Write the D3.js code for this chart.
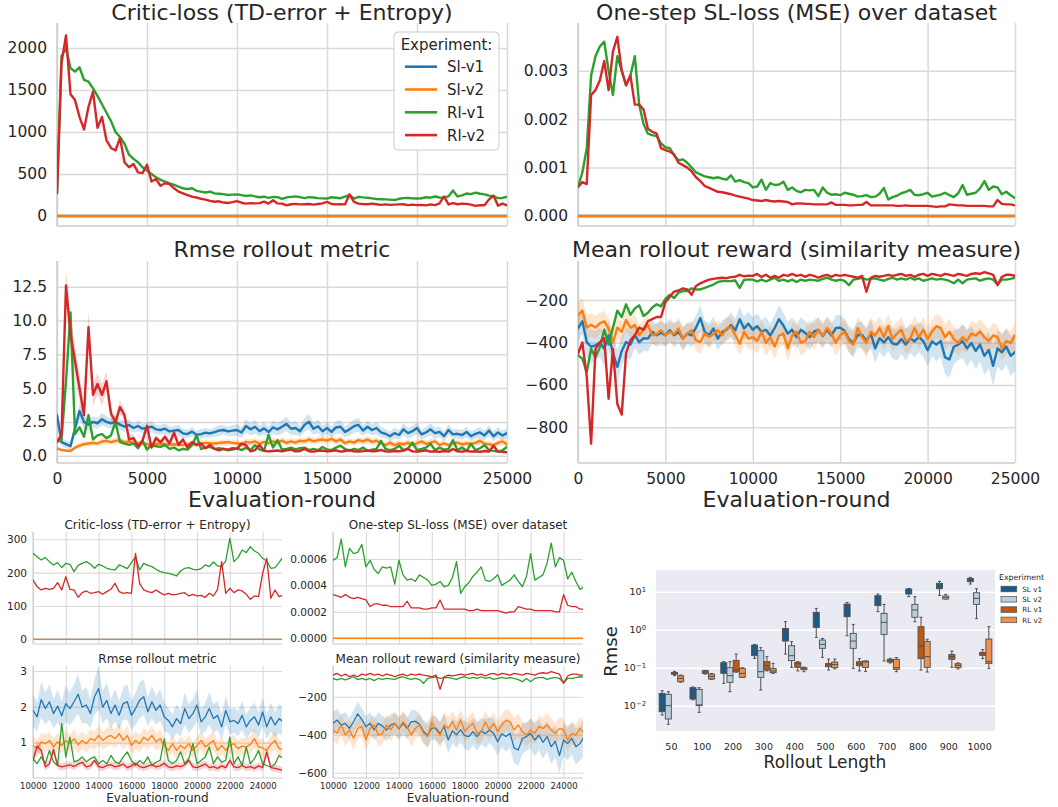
<!DOCTYPE html>
<html><head><meta charset="utf-8">
<script src="https://cdn.jsdelivr.net/npm/d3@7"></script>
<style>body{margin:0;background:#fff}svg{display:block}</style>
</head><body><svg id="c" width="1058" height="807"></svg>
<script>
// ---------------- DATA ----------------
const rounds = [0,250,500,750,1000,1250,1500,1750,2000,2250,
2500,2750,3000,3250,3500,3750,4000,4250,4500,4750,
5000,5250,5500,5750,6000,6250,6500,6750,7000,7250,
7500,7750,8000,8250,8500,8750,9000,9250,9500,9750,
10000,10250,10500,10750,11000,11250,11500,11750,12000,12250,
12500,12750,13000,13250,13500,13750,14000,14250,14500,14750,
15000,15250,15500,15750,16000,16250,16500,16750,17000,17250,
17500,17750,18000,18250,18500,18750,19000,19250,19500,19750,
20000,20250,20500,20750,21000,21250,21500,21750,22000,22250,
22500,22750,23000,23250,23500,23750,24000,24250,24500,24750,
25000,25250];
const experiments = ["Sl-v1","Sl-v2","Rl-v1","Rl-v2"];
const slRounds = [0,25250];
const slV1Critic = [0,0];
const slV2Critic = [0,0];
const slV1Mse = [0,0];
const slV2Mse = [0,0];

const rlV1Critic = [270,1900,2000,1760,1720,1770,1620,1600,1520,1430,
1330,1230,1130,1000,940,860,730,680,640,580,
540,500,460,430,410,390,370,350,330,320,
330,300,290,280,290,270,265,260,250,255,
258,248,238,245,233,223,230,215,228,225,
203,222,228,233,225,213,225,220,213,210,
208,223,218,212,230,248,208,228,222,218,
210,203,200,198,195,190,205,213,215,210,
208,212,223,218,232,220,218,235,303,233,
245,268,260,278,265,258,243,235,213,215,
230,248];
const rlV2Critic = [270,1820,2150,1450,1380,1180,1030,1300,1480,1050,
1180,900,810,780,930,640,580,620,520,510,
610,410,440,360,390,380,330,290,270,250,
230,220,205,195,180,170,175,160,155,165,
178,158,148,153,150,153,170,148,188,150,
148,126,140,145,138,140,143,135,143,150,
168,143,138,140,138,258,168,148,143,140,
148,140,133,138,133,135,138,140,130,135,
130,132,126,138,130,150,233,138,153,140,
148,145,135,120,130,128,198,243,123,148,
128,133];

const rlV1Mse = [0.00060,0.00090,0.00140,0.00290,0.00330,0.00350,0.00360,0.00300,0.00250,0.00330,
0.00300,0.00270,0.00290,0.00330,0.00230,0.00190,0.00170,0.00167,0.00165,0.00150,
0.00142,0.00140,0.00125,0.00115,0.00117,0.00110,0.00100,0.00090,0.00086,0.00082,
0.00080,0.00078,0.00080,0.00077,0.00075,0.00084,0.00071,0.00074,0.00070,0.00068,
0.00059,0.00061,0.00075,0.00054,0.00068,0.00064,0.00065,0.00071,0.00054,0.00059,
0.00052,0.00049,0.00054,0.00053,0.00054,0.00041,0.00059,0.00048,0.00044,0.00045,
0.00043,0.00048,0.00046,0.00044,0.00040,0.00041,0.00043,0.00039,0.00040,0.00046,
0.00058,0.00034,0.00039,0.00042,0.00047,0.00050,0.00054,0.00044,0.00043,0.00045,
0.00048,0.00040,0.00042,0.00044,0.00048,0.00043,0.00039,0.00047,0.00064,0.00044,
0.00046,0.00048,0.00057,0.00072,0.00054,0.00061,0.00059,0.00045,0.00050,0.00043,
0.00037,0.00039];
const rlV2Mse = [0.00060,0.00070,0.00066,0.00250,0.00260,0.00280,0.00320,0.00260,0.00340,0.00370,
0.00300,0.00270,0.00290,0.00230,0.00230,0.00220,0.00180,0.00174,0.00170,0.00140,
0.00136,0.00133,0.00127,0.00110,0.00105,0.00100,0.00092,0.00080,0.00072,0.00062,
0.00058,0.00054,0.00050,0.00049,0.00047,0.00045,0.00042,0.00040,0.00038,0.00036,
0.00033,0.00032,0.00031,0.00033,0.00031,0.00030,0.00031,0.00030,0.00029,0.00024,
0.00026,0.00026,0.00025,0.00025,0.00024,0.00024,0.00024,0.00024,0.00028,0.00023,
0.00023,0.00023,0.00022,0.00022,0.00023,0.00023,0.00029,0.00022,0.00022,0.00022,
0.00022,0.00022,0.00022,0.00021,0.00021,0.00022,0.00021,0.00021,0.00021,0.00021,
0.00021,0.00020,0.00019,0.00020,0.00020,0.00024,0.00023,0.00022,0.00022,0.00021,
0.00021,0.00021,0.00021,0.00021,0.00020,0.00020,0.00033,0.00025,0.00024,0.00024,
0.00022,0.00022];

const slV1Rmse = [3.0,1.0,0.85,0.7,2.0,3.3,2.5,2.3,2.5,2.4,
2.7,2.5,2.4,2.5,2.3,2.15,2.27,2.05,2.2,2.0,
2.05,2.15,1.95,1.9,2.0,1.8,1.85,1.9,1.65,1.6,
1.78,1.55,1.6,1.7,1.65,1.75,1.85,1.9,1.8,1.85,
1.9,1.72,2.2,1.95,2.14,1.81,2.02,1.75,2.09,1.95,
2.14,2.35,1.99,2.05,1.81,2.28,2.51,1.99,2.18,1.81,
2.05,1.76,2.09,2.14,1.76,1.95,2.18,2.28,1.86,2.14,
1.9,2.05,1.72,1.62,1.44,1.67,1.53,1.95,1.67,1.81,
2.05,1.58,1.72,1.95,1.67,1.76,1.44,1.9,1.58,1.62,
1.53,1.76,1.44,1.62,1.72,1.49,1.86,1.44,1.72,1.49,
1.67,1.58];
const slV1RmseBand = [0.5,0.3,0.3,0.3,0.5,0.6,0.5,0.45,0.4,0.4,
0.45,0.4,0.4,0.45,0.4,0.4,0.4,0.35,0.4,0.35,
0.4,0.4,0.35,0.35,0.4,0.35,0.35,0.4,0.35,0.3,
0.35,0.3,0.35,0.35,0.3,0.35,0.4,0.35,0.35,0.4,
0.45,0.4,0.5,0.45,0.5,0.4,0.45,0.4,0.5,0.45,
0.5,0.55,0.45,0.5,0.4,0.5,0.6,0.45,0.5,0.4,
0.45,0.4,0.45,0.5,0.4,0.45,0.5,0.5,0.4,0.45,
0.4,0.45,0.4,0.35,0.35,0.4,0.35,0.45,0.4,0.4,
0.45,0.35,0.4,0.45,0.4,0.4,0.35,0.4,0.35,0.35,
0.35,0.4,0.35,0.35,0.4,0.35,0.4,0.35,0.4,0.35,
0.4,0.4];
const slV2Rmse = [0.55,0.42,0.38,0.35,0.6,0.75,0.85,0.9,0.95,0.9,
1.05,1.1,1.0,1.1,1.15,1.0,1.05,0.95,0.9,0.92,
0.85,0.8,0.85,0.9,0.85,0.8,0.85,0.8,0.78,0.85,
0.9,0.85,0.9,0.95,0.92,0.9,0.95,0.98,1.0,0.95,
0.92,0.83,1.02,0.97,1.06,0.88,1.02,0.92,1.06,0.97,
1.11,0.94,1.06,0.97,1.11,1.06,1.2,1.06,1.15,1.2,
1.11,1.25,1.06,1.2,0.92,1.06,0.97,1.15,1.06,1.2,
1.02,1.11,0.92,0.78,0.97,0.78,0.92,0.83,0.97,0.78,
0.92,1.06,0.88,0.97,1.06,0.78,0.92,0.78,0.92,0.97,
0.83,0.9,0.88,0.95,1.11,0.88,0.85,0.78,0.95,1.06,
0.83,0.8];
const slV2RmseBand = [0.15,0.1,0.1,0.1,0.15,0.2,0.2,0.2,0.2,0.2,
0.25,0.25,0.2,0.25,0.25,0.2,0.2,0.2,0.2,0.2,
0.2,0.2,0.2,0.2,0.2,0.2,0.2,0.2,0.2,0.2,
0.2,0.22,0.2,0.22,0.2,0.22,0.2,0.22,0.24,0.22,
0.24,0.22,0.26,0.24,0.25,0.22,0.24,0.22,0.26,0.24,
0.26,0.24,0.25,0.23,0.26,0.25,0.28,0.25,0.26,0.27,
0.26,0.28,0.25,0.27,0.23,0.25,0.24,0.26,0.25,0.27,
0.24,0.26,0.23,0.22,0.24,0.22,0.24,0.22,0.24,0.22,
0.24,0.26,0.23,0.24,0.26,0.22,0.24,0.22,0.24,0.25,
0.23,0.24,0.23,0.24,0.26,0.23,0.23,0.22,0.24,0.26,
0.23,0.23];
const rlV1Rmse = [1.04,1.2,5.5,10.6,1.6,2.1,1.4,3.0,1.2,1.5,
1.6,1.3,1.5,2.5,1.0,0.9,0.8,0.9,0.55,1.1,
0.45,0.8,0.7,0.65,0.8,0.5,0.6,0.4,0.5,0.45,
0.78,1.5,0.5,0.6,0.65,0.5,0.55,0.5,0.4,0.45,
0.55,0.41,0.6,0.41,0.78,0.46,0.36,1.53,0.6,1.15,
0.46,0.5,0.6,0.46,0.55,0.6,0.41,0.5,0.41,0.64,
0.46,0.41,0.6,0.74,0.5,0.36,0.5,0.41,0.6,0.36,
0.45,0.5,1.1,0.5,0.41,0.5,0.74,0.41,0.55,0.97,
0.41,0.5,0.6,0.88,0.41,0.6,0.45,0.5,1.15,0.41,
0.6,0.36,0.88,0.41,0.55,0.78,0.41,0.36,0.31,0.4,
0.64,0.55];
const rlV2Rmse = [1.04,1.5,12.6,9.0,7.0,5.0,3.0,9.5,4.5,5.3,
4.5,5.5,3.1,2.5,3.6,3.0,1.2,1.3,0.7,1.1,
2.2,0.6,1.3,1.0,1.4,0.9,1.7,0.8,1.2,0.6,
1.0,0.8,0.9,0.55,0.8,0.5,0.4,0.5,0.45,0.55,
0.5,0.9,0.78,0.32,0.41,0.8,0.36,0.32,0.35,0.38,
0.33,0.4,0.45,0.32,0.35,0.5,0.33,0.3,0.36,0.38,
0.32,0.35,0.4,0.3,0.35,0.42,0.33,0.3,0.34,0.38,
0.32,0.35,0.42,0.32,0.3,0.35,0.33,0.38,0.5,0.32,
0.3,0.35,0.4,0.3,0.33,0.28,0.35,0.3,0.5,0.32,
0.3,0.36,0.3,0.33,0.28,0.35,0.3,0.74,0.3,0.28,
0.25,0.22];
const rlV2RmseBand = [0.1,0.6,1.1,1.2,1.2,1.0,0.8,1.2,0.8,0.8,
0.8,0.7,0.5,0.4,0.5,0.4,0.3,0.3,0.2,0.3,
0.3,0.2,0.25,0.2,0.25,0.2,0.3,0.2,0.2,0.15,
0.15,0.15,0.15,0.1,0.15,0.1,0.1,0.1,0.1,0.1,
0.1,0.15,0.15,0.1,0.1,0.15,0.1,0.1,0.1,0.1,
0.1,0.1,0.1,0.1,0.1,0.1,0.1,0.1,0.1,0.1,
0.1,0.1,0.1,0.1,0.1,0.1,0.1,0.1,0.1,0.1,
0.1,0.1,0.1,0.1,0.1,0.1,0.1,0.1,0.1,0.1,
0.1,0.1,0.1,0.1,0.1,0.1,0.1,0.1,0.1,0.1,
0.1,0.1,0.1,0.1,0.1,0.1,0.1,0.15,0.1,0.1,
0.1,0.1];

const slV1Reward = [-334,-300,-398,-420,-414,-400,-430,-366,-450,-515,
-440,-398,-410,-366,-398,-380,-382,-350,-366,-355,
-366,-342,-366,-350,-382,-358,-366,-330,-285,-350,
-366,-334,-382,-350,-340,-318,-342,-290,-334,-311,
-340,-323,-349,-340,-367,-332,-290,-320,-358,-340,
-375,-340,-355,-375,-349,-340,-370,-340,-367,-332,
-330,-345,-384,-402,-365,-365,-393,-358,-428,-380,
-400,-375,-405,-410,-384,-410,-380,-395,-375,-393,
-437,-395,-410,-393,-470,-480,-420,-410,-393,-428,
-402,-440,-410,-463,-435,-510,-428,-446,-419,-463,
-446,-410];
const slV1RewardBand = [60,60,70,80,70,70,80,70,80,80,
70,70,70,60,60,60,60,55,55,55,
55,55,55,55,55,50,55,60,60,55,
55,55,55,55,55,60,55,60,55,55,
60,60,55,60,55,60,65,60,55,60,
55,60,55,60,55,60,55,60,55,60,
60,55,60,65,60,65,60,70,70,65,
70,65,70,75,70,75,70,75,70,75,
75,70,80,75,80,85,80,75,80,85,
80,85,80,90,85,95,85,90,85,95,
90,100];
const slV2Reward = [-271,-250,-330,-316,-330,-310,-300,-334,-400,-330,
-350,-295,-330,-318,-366,-340,-318,-366,-360,-342,
-366,-350,-360,-334,-382,-358,-342,-390,-398,-358,
-374,-360,-342,-366,-334,-326,-366,-406,-350,-382,
-375,-393,-349,-402,-375,-419,-367,-358,-428,-367,
-349,-402,-393,-349,-375,-340,-367,-332,-358,-402,
-367,-349,-393,-410,-332,-375,-402,-349,-367,-332,
-375,-323,-384,-358,-340,-393,-384,-332,-375,-340,
-384,-349,-323,-332,-375,-349,-384,-402,-375,-393,
-358,-367,-349,-375,-393,-367,-375,-428,-393,-402,
-367,-393];
const slV2RewardBand = [60,60,55,55,55,50,50,50,55,50,
50,50,50,50,50,50,50,45,50,50,
50,45,50,50,55,50,45,50,55,50,
50,50,45,50,50,45,50,55,50,50,
55,60,55,60,55,60,55,55,60,55,
55,60,55,55,60,55,60,55,55,60,
55,60,55,60,55,60,70,65,60,55,
60,55,60,55,60,60,55,60,55,60,
60,55,60,55,60,60,55,60,60,55,
60,55,60,60,55,60,55,60,60,55,
60,60];
const rlV1Reward = [-460,-476,-540,-430,-470,-423,-340,-410,-330,-250,
-280,-220,-270,-240,-225,-275,-260,-235,-220,-230,
-195,-175,-190,-165,-158,-158,-145,-150,-150,-143,
-135,-127,-115,-111,-111,-110,-108,-143,-105,-103,
-104,-112,-104,-112,-104,-95,-110,-104,-112,-104,
-115,-104,-109,-104,-106,-109,-100,-95,-104,-109,
-104,-110,-130,-104,-100,-95,-104,-100,-98,-104,
-109,-100,-95,-104,-98,-104,-95,-104,-98,-109,
-104,-98,-104,-100,-104,-110,-121,-104,-121,-104,
-100,-98,-109,-102,-98,-104,-126,-104,-104,-100,
-95,-98];
const rlV2Reward = [-452,-400,-560,-877,-430,-400,-380,-665,-430,-690,
-740,-450,-390,-366,-330,-340,-300,-290,-280,-280,
-210,-184,-160,-155,-145,-150,-175,-134,-121,-112,
-104,-100,-97,-95,-97,-92,-90,-81,-88,-85,
-86,-77,-91,-81,-95,-86,-95,-81,-86,-77,
-86,-81,-91,-81,-86,-95,-86,-81,-91,-81,
-86,-81,-86,-90,-95,-86,-161,-95,-86,-90,
-86,-81,-86,-81,-77,-86,-81,-91,-81,-77,
-86,-77,-81,-86,-77,-81,-86,-77,-81,-86,
-77,-74,-77,-68,-74,-81,-130,-91,-81,-81,
-86,-86];

// Box plot data: [lower whisker, q1, median, q3, upper whisker]
const rolloutLengths = ["50","100","200","300","400","500","600","700","800","900","1000"];
const boxExperiments = ["SL v1","SL v2","RL v1","RL v2"];
const slV1Box = [[0.00568,0.00695,0.0111,0.0211,0.0248],[0.0143,0.015,0.0173,0.0298,0.031],[0.0387,0.071,0.1,0.1355,0.144],[0.176,0.207,0.292,0.394,0.41],[0.229,0.503,0.922,1.08,1.62],[0.628,1.15,2.29,2.86,3.64],[0.695,2.2,4.03,4.73,5.24],[2.98,4.29,6.68,7.85,8.69],[7.38,8.69,10,11.8,12.2],[8.0,12.0,14.1,16.6,18.7],[15.9,18.3,20.3,22.4,23.8]];
const slV2Box = [[0.00324,0.00446,0.01,0.0199,0.0233],[0.00668,0.01,0.0105,0.0269,0.0298],[0.0233,0.0411,0.0616,0.1,0.144],[0.0258,0.0557,0.0785,0.28,0.336],[0.102,0.153,0.207,0.379,0.483],[0.187,0.323,0.411,0.535,0.59],[0.0959,0.323,0.503,0.8,1.38],[0.15,0.753,1.56,2.69,4.64],[1.62,2.12,3.3,4.64,7.38],[6.4,6.41,7.1,7.69,8.5],[1.95,4.64,6.68,9.41,12.0]];
const rlV1Box = [[0.0617,0.0668,0.071,0.0753,0.08],[0.068,0.071,0.0769,0.0834,0.085],[0.0757,0.0785,0.0869,0.156,0.229],[0.0822,0.0869,0.111,0.144,0.195],[0.0822,0.102,0.127,0.138,0.144],[0.0869,0.106,0.118,0.13,0.169],[0.0822,0.113,0.127,0.144,0.173],[0.133,0.141,0.153,0.166,0.176],[0.0869,0.173,0.371,1.2,2.12],[0.102,0.166,0.195,0.224,0.275],[0.173,0.211,0.233,0.253,0.3]];
const rlV2Box = [[0.0415,0.0428,0.0525,0.0617,0.064],[0.049,0.0503,0.0591,0.068,0.07],[0.055,0.0557,0.071,0.0959,0.1],[0.071,0.0739,0.0822,0.0959,0.13],[0.0785,0.0885,0.094,0.1,0.104],[0.0933,0.1,0.121,0.141,0.169],[0.08,0.102,0.141,0.15,0.15],[0.0785,0.0904,0.1,0.166,0.184],[0.077,0.102,0.195,0.493,0.56],[0.093,0.1,0.115,0.127,0.134],[0.0959,0.13,0.144,0.567,1.2]];

// ---------------- DRAWING ----------------
const FONT = "DejaVu Sans, sans-serif";
const TXT = "#262626";
const GRID = "#dadada";
const COL = ["#1f77b4","#ff7f0e","#2ca02c","#d62728"];
const svg = d3.select("#c");
let clipN = 0;

function panel(o){
  const x = d3.scaleLinear().domain(o.xd).range([o.l,o.r]);
  const y = d3.scaleLinear().domain(o.yd).range([o.b,o.t]);
  const g = svg.append("g");
  const ya = d3.axisLeft(y).tickValues(o.yt).tickFormat(o.yf).tickSize(-(o.r-o.l)).tickSizeOuter(0).tickPadding(o.pad);
  const yg = g.append("g").attr("transform",`translate(${o.l},0)`).call(ya)
    .attr("font-family",FONT).attr("font-size",o.yfs);
  yg.select(".domain").remove();
  yg.selectAll("line").attr("stroke",GRID).attr("stroke-width",o.gw);
  yg.selectAll("text").attr("fill",TXT);
  const xa = d3.axisBottom(x).tickValues(o.xt).tickFormat(o.xlabels? d3.format("d") : ()=>"").tickSize(-(o.b-o.t)).tickSizeOuter(0).tickPadding(o.xpad);
  const xg = g.append("g").attr("transform",`translate(0,${o.b})`).call(xa)
    .attr("font-family",FONT).attr("font-size",o.xfs);
  xg.select(".domain").remove();
  xg.selectAll("line").attr("stroke",GRID).attr("stroke-width",o.gw);
  xg.selectAll("text").attr("fill",TXT);
  g.append("line").attr("x1",o.l).attr("x2",o.l).attr("y1",o.t).attr("y2",o.b).attr("stroke","#cccccc").attr("stroke-width",o.gw);
  g.append("line").attr("x1",o.l).attr("x2",o.r).attr("y1",o.b).attr("y2",o.b).attr("stroke","#cccccc").attr("stroke-width",o.gw);
  g.append("text").attr("x",(o.l+o.r)/2).attr("y",o.titleY).attr("text-anchor","middle")
    .attr("font-family",FONT).attr("font-size",o.tfs).attr("fill",TXT).text(o.title);
  if(o.xlabel){
    g.append("text").attr("x",(o.l+o.r)/2).attr("y",o.xlabelY).attr("text-anchor","middle")
      .attr("font-family",FONT).attr("font-size",o.xlfs).attr("fill",TXT).text(o.xlabel);
  }
  const id = "clip"+(clipN++);
  svg.append("clipPath").attr("id",id).append("rect").attr("x",o.l).attr("y",o.t-2).attr("width",o.r-o.l).attr("height",o.b-o.t+2);
  const pg = svg.append("g").attr("clip-path",`url(#${id})`);
  function band(xs, vals, hw, c){
    pg.append("path").datum(vals)
      .attr("d", d3.area().x((d,i)=>x(xs[i])).y0((d,i)=>y(d-hw[i])).y1((d,i)=>y(d+hw[i])))
      .attr("fill",c).attr("fill-opacity",0.2).attr("stroke","none");
  }
  function line(xs, vals, c){
    pg.append("path").datum(vals)
      .attr("d", d3.line().x((d,i)=>x(xs[i])).y(d=>y(d)))
      .attr("fill","none").attr("stroke",c).attr("stroke-width",o.lw)
      .attr("stroke-linejoin","round").attr("stroke-linecap","round");
  }
  return {band,line};
}

const bigX = [0,5000,10000,15000,20000,25000];
const smallX = [10000,12000,14000,16000,18000,20000,22000,24000];
const big = {xd:[0,25000],xt:bigX,pad:10,xpad:10,yfs:15.5,xfs:15.5,tfs:22,xlfs:22,gw:1.5,lw:2.4};
const small = {xd:[10000,25180],xt:smallX,pad:6,xpad:5,yfs:10.5,xfs:8.5,tfs:12,xlfs:12,gw:1.1,lw:1.3};

function drawCritic(p){
  p.line(slRounds, slV1Critic, COL[0]);
  p.line(slRounds, slV2Critic, COL[1]);
  p.line(rounds, rlV1Critic, COL[2]);
  p.line(rounds, rlV2Critic, COL[3]);
}
function drawMse(p){
  p.line(slRounds, slV1Mse, COL[0]);
  p.line(slRounds, slV2Mse, COL[1]);
  p.line(rounds, rlV1Mse, COL[2]);
  p.line(rounds, rlV2Mse, COL[3]);
}
function drawRmse(p){
  p.band(rounds, slV1Rmse, slV1RmseBand, COL[0]);
  p.band(rounds, slV2Rmse, slV2RmseBand, COL[1]);
  p.band(rounds, rlV2Rmse, rlV2RmseBand, COL[3]);
  p.line(rounds, slV1Rmse, COL[0]);
  p.line(rounds, slV2Rmse, COL[1]);
  p.line(rounds, rlV1Rmse, COL[2]);
  p.line(rounds, rlV2Rmse, COL[3]);
}
function drawReward(p){
  p.band(rounds, slV1Reward, slV1RewardBand, COL[0]);
  p.band(rounds, slV2Reward, slV2RewardBand, COL[1]);
  p.line(rounds, slV1Reward, COL[0]);
  p.line(rounds, slV2Reward, COL[1]);
  p.line(rounds, rlV1Reward, COL[2]);
  p.line(rounds, rlV2Reward, COL[3]);
}

drawCritic(panel({...big,l:57,r:507,t:23,b:226,yd:[-119,2298],yt:[0,500,1000,1500,2000],yf:d3.format("d"),xlabels:false,title:"Critic-loss (TD-error + Entropy)",titleY:19.5}));
drawMse(panel({...big,l:578,r:1015,t:23,b:226,yd:[-0.000206,0.003985],yt:[0,0.001,0.002,0.003],yf:d3.format(".3f"),xlabels:false,title:"One-step SL-loss (MSE) over dataset",titleY:19.5}));
drawRmse(panel({...big,l:57,r:507,t:261,b:463,yd:[-0.54,14.4],yt:[0,2.5,5,7.5,10,12.5],yf:d3.format(".1f"),xlabels:true,title:"Rmse rollout metric",titleY:257,xlabel:"Evaluation-round",xlabelY:507}));
drawReward(panel({...big,l:578,r:1015,t:261,b:463,yd:[-968,-16],yt:[-800,-600,-400,-200],yf:d3.format("d"),xlabels:true,title:"Mean rollout reward (similarity measure)",titleY:257,xlabel:"Evaluation-round",xlabelY:507}));

{
  const lg = svg.append("g").attr("font-family",FONT).attr("fill",TXT);
  lg.append("rect").attr("x",394).attr("y",32).attr("width",105).attr("height",118).attr("rx",4)
    .attr("fill","#ffffff").attr("fill-opacity",0.85).attr("stroke","#cccccc").attr("stroke-width",1);
  lg.append("text").attr("x",446.5).attr("y",50).attr("text-anchor","middle").attr("font-size",15).attr("fill",TXT).text("Experiment:");
  experiments.forEach((e,k)=>{
    const yy = 66.7 + k*22.8;
    lg.append("line").attr("x1",405).attr("x2",437).attr("y1",yy).attr("y2",yy).attr("stroke",COL[k]).attr("stroke-width",2.6);
    lg.append("text").attr("x",447).attr("y",yy+5.5).attr("font-size",15).attr("fill",TXT).text(e);
  });
}

drawCritic(panel({...small,l:33,r:282,t:532,b:644,yd:[-14.1,321.9],yt:[0,100,200,300],yf:d3.format("d"),xlabels:false,title:"Critic-loss (TD-error + Entropy)",titleY:529}));
drawRmse(panel({...small,l:33,r:282,t:666,b:778,yd:[0.01,3.14],yt:[1,2,3],yf:d3.format("d"),xlabels:true,title:"Rmse rollout metric",titleY:663,xlabel:"Evaluation-round",xlabelY:802}));
drawMse(panel({...small,l:333,r:583,t:532,b:644,yd:[-0.0000431,0.000804],yt:[0,0.0002,0.0004,0.0006],yf:d3.format(".4f"),xlabels:false,title:"One-step SL-loss (MSE) over dataset",titleY:529}));
drawReward(panel({...small,l:333,r:583,t:666,b:778,yd:[-628,-38.4],yt:[-600,-400,-200],yf:d3.format("d"),xlabels:true,title:"Mean rollout reward (similarity measure)",titleY:663,xlabel:"Evaluation-round",xlabelY:802}));

{
  const L=656,R=995,T=570,B=731;
  const boxData = [slV1Box, slV2Box, rlV1Box, rlV2Box];
  const boxCol = ["#1b5b89","#b9cedd","#c0580f","#eb914f"];
  const xb = d3.scaleBand().domain(rolloutLengths).range([L,R]).padding(0);
  const yb = d3.scaleLog().domain([Math.pow(10,-2.666), Math.pow(10,1.571)]).range([B,T]);
  const g = svg.append("g");
  g.append("rect").attr("x",L).attr("y",T).attr("width",R-L).attr("height",B-T).attr("fill","#eaeaf2");
  const ya = d3.axisLeft(yb).tickValues([0.01,0.1,1,10]).tickSize(-(R-L)).tickSizeOuter(0).tickPadding(10).tickFormat(d=>String(Math.round(Math.log10(d))));
  const yg = g.append("g").attr("transform",`translate(${L},0)`).call(ya).attr("font-family",FONT).attr("font-size",9.5);
  yg.select(".domain").remove();
  yg.selectAll("line").attr("stroke","#ffffff").attr("stroke-width",1.4);
  yg.selectAll("text").attr("fill",TXT).each(function(){
    const t = d3.select(this); const e = t.text().replace("-","\u2212");
    t.text(null);
    t.append("tspan").text("10");
    t.append("tspan").attr("dy","-0.45em").attr("font-size","0.72em").text(e);
  });
  const xa = d3.axisBottom(xb).tickSize(0).tickPadding(12.5);
  const xg = g.append("g").attr("transform",`translate(0,${B})`).call(xa).attr("font-family",FONT).attr("font-size",9.5);
  xg.select(".domain").remove();
  xg.selectAll("text").attr("fill",TXT);
  const bw = xb.bandwidth()*0.8/4;
  const EDGE = "#4f4f4f";
  boxData.forEach((arr,k)=>{
    arr.forEach((s,j)=>{
      const cx = xb(rolloutLengths[j]) + xb.bandwidth()/2 + (k-1.5)*bw;
      const w = bw*0.98;
      const [lo,q1,md,q3,hi] = s;
      g.append("line").attr("x1",cx).attr("x2",cx).attr("y1",yb(lo)).attr("y2",yb(q1)).attr("stroke",EDGE).attr("stroke-width",1);
      g.append("line").attr("x1",cx).attr("x2",cx).attr("y1",yb(q3)).attr("y2",yb(hi)).attr("stroke",EDGE).attr("stroke-width",1);
      g.append("line").attr("x1",cx-w/4).attr("x2",cx+w/4).attr("y1",yb(lo)).attr("y2",yb(lo)).attr("stroke",EDGE).attr("stroke-width",1);
      g.append("line").attr("x1",cx-w/4).attr("x2",cx+w/4).attr("y1",yb(hi)).attr("y2",yb(hi)).attr("stroke",EDGE).attr("stroke-width",1);
      g.append("rect").attr("x",cx-w/2).attr("y",yb(q3)).attr("width",w).attr("height",Math.max(1,yb(q1)-yb(q3)))
        .attr("fill",boxCol[k]).attr("stroke",EDGE).attr("stroke-width",0.9);
      g.append("line").attr("x1",cx-w/2).attr("x2",cx+w/2).attr("y1",yb(md)).attr("y2",yb(md)).attr("stroke",EDGE).attr("stroke-width",1);
    });
  });
  g.append("text").attr("transform",`translate(617,651.5) rotate(-90)`).attr("text-anchor","middle")
    .attr("font-family",FONT).attr("font-size",18).attr("fill",TXT).text("Rmse");
  g.append("text").attr("x",825).attr("y",768).attr("text-anchor","middle")
    .attr("font-family",FONT).attr("font-size",17).attr("fill",TXT).text("Rollout Length");
  g.append("text").attr("x",999).attr("y",580).attr("font-family",FONT).attr("font-size",7.8).attr("fill",TXT).text("Experiment");
  boxExperiments.forEach((e,k)=>{
    const yy = 589 + k*10.3;
    g.append("rect").attr("x",1001).attr("y",yy-2.8).attr("width",15.7).attr("height",5.6).attr("fill",boxCol[k]).attr("stroke",EDGE).attr("stroke-width",0.7);
    g.append("text").attr("x",1022.3).attr("y",yy+2.8).attr("font-family",FONT).attr("font-size",7.2).attr("fill",TXT).text(e);
  });
}
</script>
</body></html>
